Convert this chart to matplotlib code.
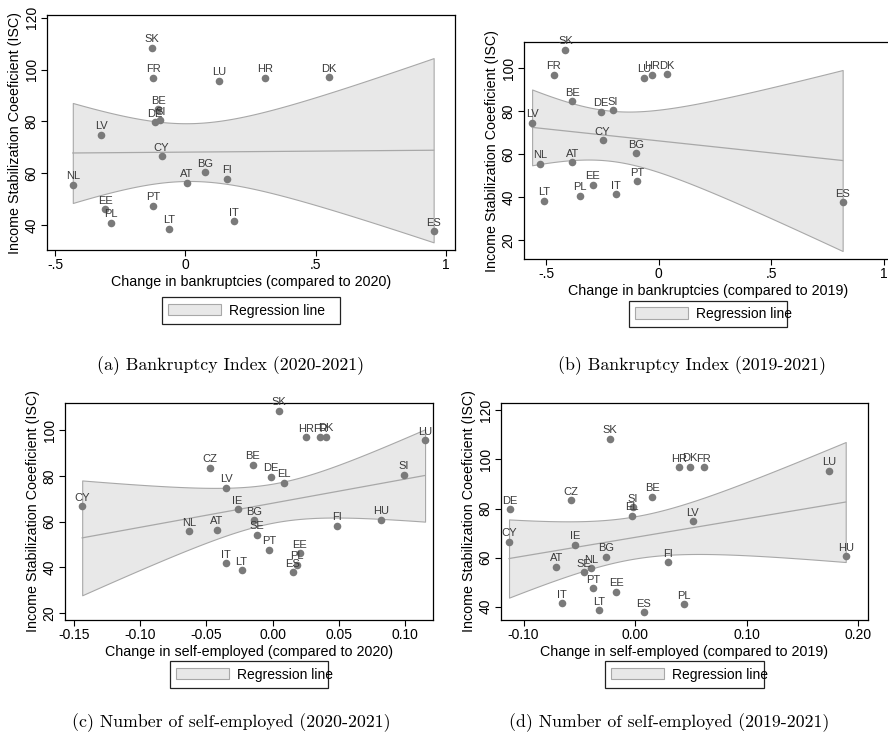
import numpy as np
import matplotlib
matplotlib.use("Agg")
from matplotlib import pyplot as plt
from matplotlib.patches import Patch

plt.rcParams['font.family'] = ['Liberation Sans', 'DejaVu Sans']

# (a) bankruptcies, change vs 2020
a_names = ['SK', 'FR', 'LU', 'HR', 'DK', 'BE', 'DE', 'SI', 'LV', 'CY',
           'NL', 'AT', 'BG', 'FI', 'EE', 'PL', 'PT', 'LT', 'IT', 'ES']
a_x = [-0.127, -0.123, 0.130, 0.307, 0.550, -0.104, -0.118, -0.096, -0.322, -0.091,
       -0.432, 0.005, 0.075, 0.159, -0.307, -0.286, -0.123, -0.061, 0.185, 0.953]
a_y = [108.4, 96.9, 95.6, 96.9, 97.1, 84.7, 79.7, 80.5, 74.8, 66.6,
       55.7, 56.3, 60.4, 58.0, 46.1, 40.9, 47.5, 38.6, 41.6, 37.7]

# (b) bankruptcies, change vs 2019
b_names = ['SK', 'FR', 'LU', 'HR', 'DK', 'BE', 'DE', 'SI', 'LV', 'CY',
           'NL', 'AT', 'BG', 'EE', 'PL', 'IT', 'LT', 'PT', 'ES']
b_x = [-0.414, -0.466, -0.064, -0.030, 0.036, -0.384, -0.255, -0.203, -0.562, -0.249,
       -0.525, -0.384, -0.102, -0.294, -0.350, -0.191, -0.510, -0.096, 0.816]
b_y = [108.5, 97.1, 95.5, 97.1, 97.2, 84.7, 79.8, 80.5, 74.8, 66.6,
       55.7, 56.3, 60.5, 45.8, 40.8, 41.5, 38.5, 47.5, 37.8]

# (c) self-employed, change vs 2020
c_names = ['SK', 'HR', 'FR', 'DK', 'LU', 'CZ', 'BE', 'DE', 'EL', 'SI', 'LV', 'CY', 'IE',
           'BG', 'NL', 'AT', 'SE', 'FI', 'HU', 'PT', 'EE', 'PL', 'ES', 'IT', 'LT']
c_x = [0.0046, 0.0253, 0.0362, 0.0405, 0.1154, -0.0476, -0.0148, -0.0014, 0.0089, 0.0993,
       -0.0350, -0.1440, -0.0264, -0.0138, -0.0630, -0.0423, -0.0120, 0.0488, 0.0819,
       -0.0027, 0.0205, 0.0186, 0.0153, -0.0355, -0.0234]
c_y = [108.5, 96.9, 96.9, 97.2, 95.6, 83.5, 84.8, 79.7, 77.1, 80.6, 74.9, 66.7, 65.3,
       60.6, 55.8, 56.4, 54.3, 58.2, 60.7, 47.6, 46.1, 41.0, 37.8, 41.6, 38.7]

# (d) self-employed, change vs 2019
d_names = ['SK', 'HR', 'DK', 'FR', 'LU', 'CZ', 'BE', 'SI', 'EL', 'DE', 'LV', 'CY', 'IE',
           'BG', 'AT', 'SE', 'NL', 'FI', 'HU', 'PT', 'EE', 'IT', 'LT', 'ES', 'PL']
d_x = [-0.0227, 0.0394, 0.0490, 0.0618, 0.1743, -0.0579, 0.0152, -0.0020, -0.0027, -0.1120,
       0.0516, -0.1131, -0.0537, -0.0257, -0.0707, -0.0457, -0.0391, 0.0299, 0.1890,
       -0.0379, -0.0170, -0.0657, -0.0322, 0.0078, 0.0442]
d_y = [108.4, 96.9, 97.1, 96.9, 95.5, 83.4, 84.8, 80.5, 77.0, 79.7, 74.8, 66.5, 65.2,
       60.4, 56.2, 54.0, 55.6, 58.1, 60.5, 47.5, 46.0, 41.5, 38.5, 37.7, 41.0]

# tick values and labels
ab_xticks = [-0.5, 0, 0.5, 1]
ab_xticklabels = ['-.5', '0', '.5', '1']
a_yticks = [40, 60, 80, 100, 120]
b_yticks = [20, 40, 60, 80, 100]
c_xticks = [-0.15, -0.10, -0.05, 0.00, 0.05, 0.10]
c_yticks = [20, 40, 60, 80, 100]
d_xticks = [-0.10, 0.00, 0.10, 0.20]
d_yticks = [40, 60, 80, 100, 120]

# t(0.975) for residual degrees of freedom
t975 = {17: 2.110, 18: 2.101, 23: 2.069}

W, H = 888, 740
fig = plt.figure(figsize=(W / 100, H / 100), dpi=100)


def pix(l, t, r, b):
    return [l / W, 1 - b / H, (r - l) / W, (b - t) / H]


def panel(box, names, xs, ys, xlim, ylim, xticks, xticklabels, yticks,
          xlabel, legbox, caption, cap_xy):
    ax = fig.add_axes(pix(*box))
    x = np.array(xs)
    y = np.array(ys)
    n = len(x)
    # OLS fit with 95% CI of the mean
    slope, icpt = np.polyfit(x, y, 1)
    res = y - (icpt + slope * x)
    s2 = np.sum(res ** 2) / (n - 2)
    grid = np.linspace(x.min(), x.max(), 200)
    fit = icpt + slope * grid
    se = np.sqrt(s2 * (1 / n + (grid - x.mean()) ** 2 / np.sum((x - x.mean()) ** 2)))
    t = t975[n - 2]
    ax.fill_between(grid, fit - t * se, fit + t * se, facecolor='#e8e8e8',
                    edgecolor='#a8a8a8', linewidth=0.8, zorder=1)
    ax.plot(grid, fit, color='#a8a8a8', linewidth=0.9, zorder=2)
    ax.scatter(x, y, s=30, color='#7a7a7a', linewidths=0, zorder=3)
    for nm, xi, yi in zip(names, xs, ys):
        ax.annotate(nm, (xi, yi), xytext=(0, 4), textcoords='offset points',
                    ha='center', va='baseline', fontsize=8, color='#3a3a3a', zorder=4)
    ax.set_xlim(*xlim)
    ax.set_ylim(*ylim)
    ax.set_xticks(xticks)
    ax.set_xticklabels(xticklabels, fontsize=10)
    ax.set_yticks(yticks)
    ax.set_yticklabels([str(v) for v in yticks], fontsize=10, rotation=90, va='center')
    ax.tick_params(direction='out', length=4, width=0.8, pad=2)
    for sp in ax.spines.values():
        sp.set_linewidth(0.9)
    ax.set_xlabel(xlabel, fontsize=10.3, labelpad=2)
    ax.set_ylabel('Income Stabilization Coeeficient (ISC)', fontsize=10.3, labelpad=2)
    l, t_, r, b = legbox
    leg = ax.legend(handles=[Patch(facecolor='#e8e8e8', edgecolor='#a8a8a8', linewidth=0.8)],
                    labels=['Regression line'], loc='center', mode='expand',
                    bbox_to_anchor=(l / W, 1 - b / H, (r - l) / W, (b - t_) / H),
                    bbox_transform=fig.transFigure, fontsize=10, fancybox=False,
                    edgecolor='#222222', framealpha=1, borderpad=0.45,
                    handlelength=3.8, handleheight=0.9, handletextpad=0.6)
    leg.get_frame().set_linewidth(0.9)
    fig.text(cap_xy[0] / W, 1 - cap_xy[1] / H, caption, ha='center', va='center',
             fontsize=12.8, family='cmr10')
    return ax


panel((47, 15, 455, 250), a_names, a_x, a_y, (-0.531, 1.035), (30.5, 121),
      ab_xticks, ab_xticklabels, a_yticks,
      'Change in bankruptcies (compared to 2020)', (155, 298, 347, 323),
      '(a) Bankruptcy Index (2020-2021)', (231, 366))
panel((524, 42, 892, 259), b_names, b_x, b_y, (-0.598, 1.035), (11.4, 112.2),
      ab_xticks, ab_xticklabels, b_yticks,
      'Change in bankruptcies (compared to 2019)', (622, 303, 794, 325),
      '(b) Bankruptcy Index (2019-2021)', (692, 366))
panel((65, 403, 433, 620), c_names, c_x, c_y, (-0.157, 0.1214), (16.8, 112.0),
      c_xticks, ['%.2f' % v for v in c_xticks], c_yticks,
      'Change in self-employed (compared to 2020)', (163, 663, 335, 686),
      '(c) Number of self-employed (2020-2021)', (231, 723))
panel((501, 403, 868, 620), d_names, d_x, d_y, (-0.1203, 0.209), (34.6, 123.0),
      d_xticks, ['%.2f' % v for v in d_xticks], d_yticks,
      'Change in self-employed (compared to 2019)', (598, 663, 771, 686),
      '(d) Number of self-employed (2019-2021)', (669, 723))

fig.savefig('out.png', dpi=100)
